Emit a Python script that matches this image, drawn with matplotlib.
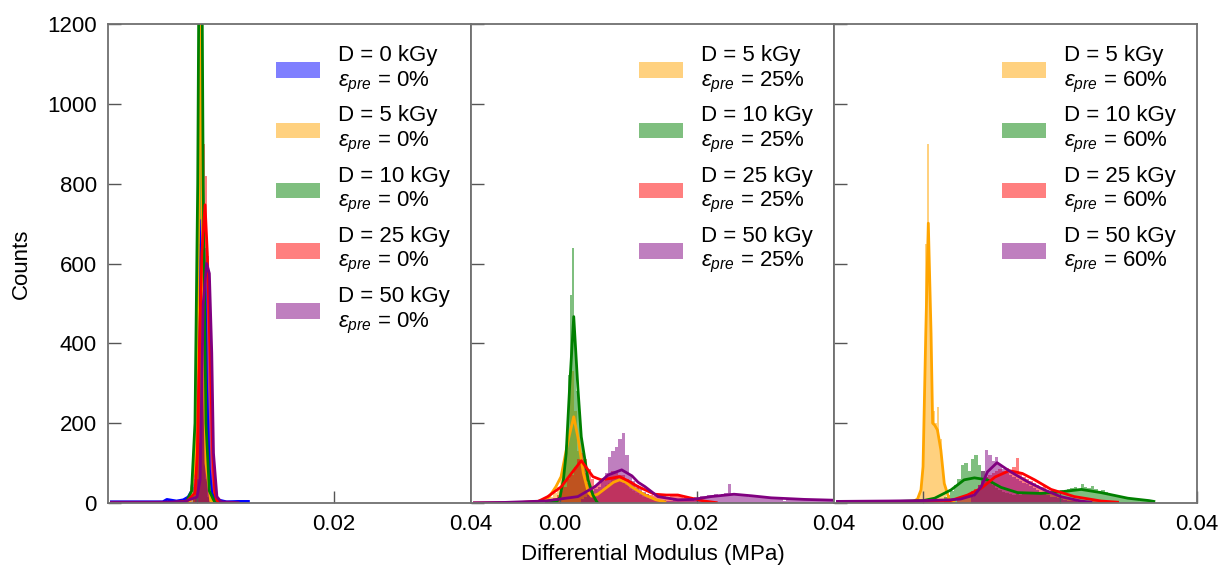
import numpy as np
import matplotlib.pyplot as plt

plt.rcParams['font.family'] = ['Liberation Sans', 'DejaVu Sans']
plt.rcParams['mathtext.fontset'] = 'custom'
plt.rcParams['mathtext.rm'] = 'Liberation Sans'
plt.rcParams['mathtext.it'] = 'Liberation Sans:italic'
plt.rcParams['font.size'] = 16

# ---- panel 1: pre-strain 0% ----
p1_doses = [0, 5, 10, 25, 50]
p1_colors = ['blue', 'orange', 'green', 'red', 'purple']
p1_hist_start = [-0.0015, -0.0009, -0.0006, -0.0006, -0.0003]
p1_bin_w = [0.0003, 0.0003, 0.0003, 0.0003, 0.0003]
p1_hist = [
    [10, 15, 25, 60, 180, 420, 650, 760, 600, 330, 150, 60, 25, 12, 6],
    [10, 40, 200, 600, 1100, 950, 500, 200, 80, 30, 10],
    [40, 250, 900, 1600, 1000, 300, 60, 15],
    [15, 60, 200, 480, 700, 900, 820, 600, 380, 160, 50, 15],
    [15, 60, 150, 400, 560, 640, 620, 520, 280, 80, 15],
]
p1_kde_x = [
    [-0.0125, -0.008, -0.005, -0.0044, -0.003, -0.002, -0.0013, -0.0008, -0.00044,
     -0.00015, 0.0002, 0.0007, 0.00117, 0.0014, 0.0018, 0.00215, 0.0026, 0.0033,
     0.0043, 0.006, 0.0075],
    [-0.002, -0.001, -0.0003, 0.0001, 0.0005, 0.0009, 0.0013, 0.002, 0.003],
    [-0.003, -0.0015, -0.0008, -0.0003, 0.0001, 0.0003, 0.0005, 0.0007, 0.0009,
     0.0013, 0.0018, 0.0025, 0.0035],
    [-0.004, -0.0015, -0.0003, 0.00004, 0.00034, 0.0007, 0.00117, 0.0015, 0.0019,
     0.0023, 0.0026, 0.0029, 0.0035],
    [-0.0125, -0.006, -0.002, 0.0, 0.00044, 0.0007, 0.0009, 0.0014, 0.0018, 0.00215,
     0.0024, 0.0029, 0.0035, 0.006],
]
p1_kde_y = [
    [3, 3, 3, 9, 5, 8, 15, 30, 80, 210, 460, 709, 540, 290, 85, 25, 12, 7, 3, 4, 4],
    [0, 5, 100, 500, 1300, 500, 100, 5, 0],
    [0, 5, 30, 200, 800, 1400, 1800, 1400, 800, 200, 30, 5, 0],
    [1, 4, 25, 125, 375, 626, 747, 626, 375, 125, 25, 6, 1],
    [2, 2, 3, 15, 58, 291, 500, 600, 575, 375, 125, 16, 3, 1],
]

# ---- panel 2: pre-strain 25% ----
p2_doses = [5, 10, 25, 50]
p2_colors = ['orange', 'green', 'red', 'purple']
p2_hist_start = [-0.0015, -0.0015, -0.002, 0.003]
p2_bin_w = [0.0005, 0.0003, 0.0005, 0.0005]
p2_hist = [
    [15, 25, 40, 70, 110, 170, 330, 230, 130, 90, 60, 30, 15, 15, 25, 35, 45, 50,
     60, 65, 55, 50, 45, 35, 30, 25, 20, 15, 12, 10, 8, 5, 3, 2],
    [8, 4, 6, 10, 15, 30, 55, 100, 180, 320, 520, 640, 420, 280, 200, 150, 110, 75,
     50, 30, 18, 10, 5, 3, 1],
    [5, 8, 12, 20, 30, 40, 60, 70, 90, 110, 125, 110, 85, 60, 45, 50, 55, 65, 70,
     80, 75, 70, 70, 60, 55, 45, 38, 30, 25, 22, 20, 18, 15, 20, 18, 15, 18, 20,
     22, 18, 12, 10, 8, 6, 5, 4, 3, 2, 1],
    [10, 15, 20, 30, 35, 40, 55, 75, 115, 130, 140, 160, 175, 120, 70, 55, 45, 35,
     28, 22, 16, 12, 10, 8, 7, 6, 6, 7, 8, 9, 10, 12, 13, 14, 16, 18, 18, 20, 20,
     22, 20, 22, 25, 48, 22, 20, 22, 20, 18, 15, 18, 15, 14, 13, 12, 12, 11, 10,
     10, 6, 10, 9, 9, 8, 12, 8, 8, 7, 7, 6, 6, 6, 5, 5],
]
p2_kde_x = [
    [-0.004, -0.0018, -0.0006, 0.00015, 0.0012, 0.002, 0.0026, 0.0034, 0.0041,
     0.0046, 0.0055, 0.0065, 0.0078, 0.0087, 0.0096, 0.0104, 0.0124, 0.014, 0.0153],
    [-0.002, -0.0005, 0.0, 0.0005, 0.0009, 0.0014, 0.002, 0.0026, 0.0031, 0.0041,
     0.0048, 0.0053, 0.0055],
    [-0.0125, -0.006, -0.0032, -0.0018, 0.0002, 0.00165, 0.0031, 0.004, 0.0048,
     0.006, 0.0075, 0.0087, 0.01, 0.0114, 0.0138, 0.0155, 0.0172, 0.0192, 0.021,
     0.0228],
    [-0.0125, -0.008, -0.0022, 0.0026, 0.0051, 0.007, 0.009, 0.0105, 0.0114,
     0.0124, 0.0143, 0.0172, 0.0195, 0.022, 0.0254, 0.028, 0.0308, 0.0357, 0.04],
]
p2_kde_y = [
    [1, 10, 41, 66, 158, 216, 166, 75, 28, 17, 22, 35, 52, 58, 52, 41, 20, 8, 3],
    [0, 3, 15, 60, 125, 290, 467, 290, 166, 58, 20, 5, 0],
    [0, 1, 4, 16, 41, 74, 106, 85, 66, 58, 62, 66, 55, 41, 22, 20, 20, 12, 5, 1],
    [0.5, 1.5, 5, 16, 41, 70, 83, 68, 52, 41, 16, 8, 9, 16, 22, 18, 13, 9, 7],
]

# ---- panel 3: pre-strain 60% ----
p3_doses = [5, 10, 25, 50]
p3_colors = ['orange', 'green', 'red', 'purple']
p3_hist_start = [-0.0009, 0.003, 0.005, 0.007]
p3_bin_w = [0.0003, 0.0005, 0.0005, 0.0005]
p3_hist = [
    [8, 25, 60, 250, 650, 900, 520, 250, 230, 200, 240, 160, 90, 40, 15, 6, 2],
    [15, 20, 30, 45, 60, 95, 100, 80, 110, 120, 95, 80, 65, 55, 45, 38, 32, 28, 25,
     22, 20, 22, 20, 22, 24, 22, 25, 24, 26, 22, 28, 25, 30, 28, 32, 30, 35, 38,
     40, 36, 48, 40, 38, 42, 35, 30, 32, 28, 22, 20, 18, 15, 14, 12, 10, 9, 8, 6,
     5, 4, 3],
    [10, 15, 20, 25, 30, 35, 45, 55, 65, 70, 75, 80, 85, 80, 88, 80, 90, 112, 75,
     65, 60, 55, 50, 45, 40, 42, 30, 28, 25, 20, 18, 15, 12, 10, 9, 8, 7, 6, 5, 5,
     4, 3, 3, 2, 2, 1, 1],
    [15, 25, 45, 80, 133, 120, 105, 115, 95, 85, 75, 70, 65, 60, 55, 50, 48, 42, 38,
     32, 28, 25, 20, 16, 14, 12, 10, 8, 6, 5, 4, 3, 2, 2, 1],
]
p3_kde_x = [
    [-0.004, -0.0015, -0.0008, -0.0003, 0.0, 0.0004, 0.00077, 0.00117, 0.0014,
     0.0017, 0.0021, 0.0026, 0.0031, 0.0038, 0.0045],
    [-0.0125, -0.005, 0.0, 0.0017, 0.0041, 0.006, 0.0075, 0.0094, 0.0114, 0.0138,
     0.0172, 0.0201, 0.0231, 0.026, 0.0299, 0.033, 0.0337],
    [-0.0125, -0.005, 0.0, 0.004, 0.0065, 0.0085, 0.0105, 0.0126, 0.0145, 0.0163,
     0.0187, 0.0221, 0.026, 0.0284],
    [-0.0125, -0.005, 0.0, 0.004, 0.0055, 0.0075, 0.0085, 0.0094, 0.0108, 0.0128,
     0.0153, 0.0177, 0.0201, 0.023, 0.0245],
]
p3_kde_y = [
    [0, 3, 10, 33, 91, 425, 701, 425, 200, 195, 183, 133, 49, 10, 2],
    [1, 3, 6, 12, 33, 58, 63, 58, 39, 26, 24, 28, 34, 26, 12, 6, 4],
    [2, 3, 4, 6, 20, 37, 65, 81, 74, 58, 34, 16, 5, 2],
    [4, 5, 6, 8, 10, 20, 41, 78, 101, 78, 53, 33, 16, 5, 2],
]

panels = [
    (0, p1_doses, p1_colors, p1_hist_start, p1_bin_w, p1_hist, p1_kde_x, p1_kde_y),
    (25, p2_doses, p2_colors, p2_hist_start, p2_bin_w, p2_hist, p2_kde_x, p2_kde_y),
    (60, p3_doses, p3_colors, p3_hist_start, p3_bin_w, p3_hist, p3_kde_x, p3_kde_y),
]

fig = plt.figure(figsize=(12.18, 5.69), dpi=100)
W, H = 1218.0, 569.0
lefts = [108, 471, 834]
axes = []
for left in lefts:
    ax = fig.add_axes([left / W, 1 - 503 / H, 363 / W, 479 / H])
    axes.append(ax)

for ax, (pre, doses, colors, starts, widths, hists, kx, ky) in zip(axes, panels):
    for d, c, s, w, h, x, y in zip(doses, colors, starts, widths, hists, kx, ky):
        edges = s + w * np.arange(len(h) + 1)
        lab = 'D = {0} kGy\n$\\varepsilon_{{pre}}$ = {1}%'.format(d, pre)
        ax.stairs(h, edges, fill=True, color=c, alpha=0.5, linewidth=0, label=lab)
        ax.plot(x, y, color=c, lw=2)
    ax.set_xlim(-0.013, 0.04)
    ax.set_ylim(0, 1200)
    ax.set_xticks([0.0, 0.02, 0.04])
    ax.set_xticklabels(['0.00', '0.02', '0.04'])
    ax.set_yticks([0, 200, 400, 600, 800, 1000, 1200])
    ax.tick_params(direction='in', length=9, width=1, color='#555555',
                   labelsize=16, pad=8)
    for sp in ax.spines.values():
        sp.set_color('#707070')
        sp.set_linewidth(1.3)
    ax.legend(loc='upper right', frameon=False, fontsize=16,
              handlelength=2.0, handleheight=0.7, handletextpad=0.8,
              labelspacing=0.49, borderaxespad=0.55)
    if ax is not axes[0]:
        ax.tick_params(labelleft=False)

axes[0].set_ylabel('Counts', fontsize=16, labelpad=11)
fig.text(0.5 * (108 + 1197) / W, 1 - 565 / H, 'Differential Modulus (MPa)',
         ha='center', va='bottom', fontsize=16)

fig.savefig('out.png', dpi=100)
